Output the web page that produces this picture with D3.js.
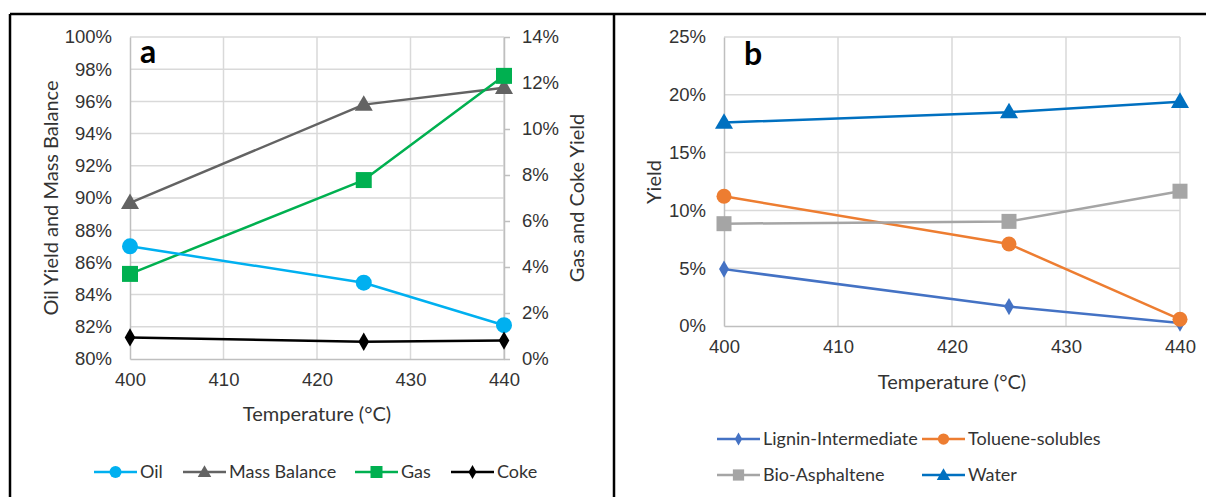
<!DOCTYPE html>
<html>
<head>
<meta charset="utf-8">
<script src="https://cdn.jsdelivr.net/npm/d3@7"></script>
<style>
  body { margin: 0; background: #fff; }
  svg { display: block; font-family: Lato, "Open Sans", sans-serif; }
</style>
</head>
<body>
<svg id="chart" width="1206" height="497"></svg>
<script>
// data
const temps = [400, 425, 440];
const xTicks = [400, 410, 420, 430, 440];

// panel a (left axis, %)
const oil = [87.0, 84.74, 82.1];
const massBalance = [89.7, 95.8, 96.85];
// panel a (right axis, %)
const gas = [3.7, 7.78, 12.31];
const coke = [0.94, 0.75, 0.8];
const leftTicksA = [80, 82, 84, 86, 88, 90, 92, 94, 96, 98, 100];
const rightTicksA = [0, 2, 4, 6, 8, 10, 12, 14];

// panel b (%)
const ligninIntermediate = [4.92, 1.68, 0.25];
const tolueneSolubles = [11.22, 7.09, 0.58];
const bioAsphaltene = [8.85, 9.05, 11.66];
const water = [17.6, 18.5, 19.4];
const yTicksB = [0, 5, 10, 15, 20, 25];

const svg = d3.select('#chart');
const gridColor = '#d9d9d9';
const axisColor = '#bfbfbf';
const textColor = '#333333';

// outer frame
svg.append('line').attr('x1', 10).attr('x2', 1206).attr('y1', 14).attr('y2', 14)
  .attr('stroke', '#000').attr('stroke-width', 2.5);
svg.append('line').attr('x1', 10).attr('x2', 10).attr('y1', 14).attr('y2', 497)
  .attr('stroke', '#000').attr('stroke-width', 2.5);
svg.append('line').attr('x1', 614).attr('x2', 614).attr('y1', 14).attr('y2', 497)
  .attr('stroke', '#000').attr('stroke-width', 2.5);

function marker(g, shape, x, y, color, size) {
  if (shape === 'circle') {
    g.append('circle').attr('cx', x).attr('cy', y).attr('r', size / 2).attr('fill', color);
  } else {
    const sym = { square: d3.symbolSquare, triangle: d3.symbolTriangle, diamond: d3.symbolDiamond }[shape];
    const area = shape === 'square' ? size * size : shape === 'triangle' ? size * size * 0.55 : size * size * 0.5;
    const dy = shape === 'triangle' ? 1 : 0;
    g.append('path')
      .attr('d', d3.symbol().type(sym).size(area)())
      .attr('transform', `translate(${x},${y + dy})`)
      .attr('fill', color);
  }
}

function drawSeries(g, x, y, values, s) {
  const line = d3.line().x((d, i) => x(temps[i])).y((d) => y(d));
  g.append('path').datum(values).attr('d', line)
    .attr('fill', 'none').attr('stroke', s.color).attr('stroke-width', 2.5)
    .attr('stroke-linejoin', 'round');
  values.forEach((v, i) => marker(g, s.shape, x(temps[i]), y(v), s.color, s.size));
}

function legendItem(g, lx, ly, s) {
  g.append('line').attr('x1', lx).attr('x2', lx + 43).attr('y1', ly).attr('y2', ly)
    .attr('stroke', s.color).attr('stroke-width', 2.5);
  marker(g, s.shape, lx + 21.5, ly, s.color, s.size * 0.75);
  g.append('text').attr('x', lx + 46).attr('y', ly + 6)
    .attr('fill', textColor).style('font-size', '18px').text(s.name);
}

function grid(g, x, y, yTicks) {
  g.selectAll('.vg').data(xTicks.slice(1)).enter().append('line')
    .attr('x1', (d) => x(d)).attr('x2', (d) => x(d))
    .attr('y1', y.range()[1]).attr('y2', y.range()[0])
    .attr('stroke', gridColor).attr('stroke-width', 1.5);
  g.selectAll('.hg').data(yTicks.slice(1)).enter().append('line')
    .attr('x1', x.range()[0]).attr('x2', x.range()[1])
    .attr('y1', (d) => y(d)).attr('y2', (d) => y(d))
    .attr('stroke', gridColor).attr('stroke-width', 1.5);
}

function styleAxis(sel) {
  sel.select('.domain').attr('stroke', axisColor).attr('stroke-width', 1.5);
  sel.selectAll('.tick line').attr('stroke', axisColor).attr('stroke-width', 1.5);
  sel.selectAll('.tick text').attr('fill', textColor).style('font-size', '18.5px');
}

// ---------- panel a ----------
{
  const g = svg.append('g');
  const x = d3.scaleLinear().domain([400, 440]).range([130, 504]);
  const yL = d3.scaleLinear().domain([80, 100]).range([359, 37]);
  const yR = d3.scaleLinear().domain([0, 14]).range([359, 37]);

  grid(g, x, yL, leftTicksA);

  g.append('g').attr('transform', 'translate(0,359)')
    .call(d3.axisBottom(x).tickValues(xTicks).tickSize(0).tickPadding(14).tickFormat(d3.format('d')))
    .call(styleAxis);
  g.append('g').attr('transform', 'translate(130,0)')
    .call(d3.axisLeft(yL).tickValues(leftTicksA).tickSize(0).tickPadding(18).tickFormat((d) => d + '%'))
    .call(styleAxis);
  g.append('g').attr('transform', 'translate(504,0)')
    .call(d3.axisRight(yR).tickValues(rightTicksA).tickSizeInner(6).tickSizeOuter(0).tickPadding(12).tickFormat((d) => d + '%'))
    .call(styleAxis);

  drawSeries(g, x, yL, massBalance, { color: '#636363', shape: 'triangle', size: 16 });
  drawSeries(g, x, yR, gas, { color: '#00b050', shape: 'square', size: 16 });
  drawSeries(g, x, yL, oil, { color: '#00b0f0', shape: 'circle', size: 16 });
  drawSeries(g, x, yR, coke, { color: '#000000', shape: 'diamond', size: 14 });

  g.append('text').attr('x', 140).attr('y', 63).style('font-size', '32px')
    .style('font-weight', 'bold').attr('fill', '#000').text('a');

  g.append('text').attr('x', 317).attr('y', 421).attr('text-anchor', 'middle')
    .attr('fill', textColor).style('font-size', '20px').text('Temperature (°C)');
  g.append('text').attr('transform', 'translate(58,198) rotate(-90)').attr('text-anchor', 'middle')
    .attr('fill', textColor).style('font-size', '20px').text('Oil Yield and Mass Balance');
  g.append('text').attr('transform', 'translate(584,198) rotate(-90)').attr('text-anchor', 'middle')
    .attr('fill', textColor).style('font-size', '20px').text('Gas and Coke Yield');

  legendItem(g, 94, 472, { name: 'Oil', color: '#00b0f0', shape: 'circle', size: 16 });
  legendItem(g, 183, 472, { name: 'Mass Balance', color: '#636363', shape: 'triangle', size: 16 });
  legendItem(g, 355, 472, { name: 'Gas', color: '#00b050', shape: 'square', size: 16 });
  legendItem(g, 451, 472, { name: 'Coke', color: '#000000', shape: 'diamond', size: 14 });
}

// ---------- panel b ----------
{
  const g = svg.append('g');
  const x = d3.scaleLinear().domain([400, 440]).range([724, 1180]);
  const y = d3.scaleLinear().domain([0, 25]).range([326, 37]);

  grid(g, x, y, yTicksB);

  g.append('g').attr('transform', 'translate(0,326)')
    .call(d3.axisBottom(x).tickValues(xTicks).tickSize(0).tickPadding(14).tickFormat(d3.format('d')))
    .call(styleAxis);
  g.append('g').attr('transform', 'translate(724,0)')
    .call(d3.axisLeft(y).tickValues(yTicksB).tickSize(0).tickPadding(18).tickFormat((d) => d + '%'))
    .call(styleAxis);

  drawSeries(g, x, y, ligninIntermediate, { color: '#4472c4', shape: 'diamond', size: 13 });
  drawSeries(g, x, y, tolueneSolubles, { color: '#ed7d31', shape: 'circle', size: 15 });
  drawSeries(g, x, y, bioAsphaltene, { color: '#a5a5a5', shape: 'square', size: 15 });
  drawSeries(g, x, y, water, { color: '#0070c0', shape: 'triangle', size: 16 });

  g.append('text').attr('x', 744).attr('y', 65).style('font-size', '32px')
    .style('font-weight', 'bold').attr('fill', '#000').text('b');

  g.append('text').attr('x', 952).attr('y', 389).attr('text-anchor', 'middle')
    .attr('fill', textColor).style('font-size', '20px').text('Temperature (°C)');
  g.append('text').attr('transform', 'translate(661,182) rotate(-90)').attr('text-anchor', 'middle')
    .attr('fill', textColor).style('font-size', '20px').text('Yield');

  legendItem(g, 717, 439, { name: 'Lignin-Intermediate', color: '#4472c4', shape: 'diamond', size: 13 });
  legendItem(g, 922, 439, { name: 'Toluene-solubles', color: '#ed7d31', shape: 'circle', size: 15 });
  legendItem(g, 717, 475, { name: 'Bio-Asphaltene', color: '#a5a5a5', shape: 'square', size: 15 });
  legendItem(g, 922, 475, { name: 'Water', color: '#0070c0', shape: 'triangle', size: 16 });
}
</script>
</body>
</html>
